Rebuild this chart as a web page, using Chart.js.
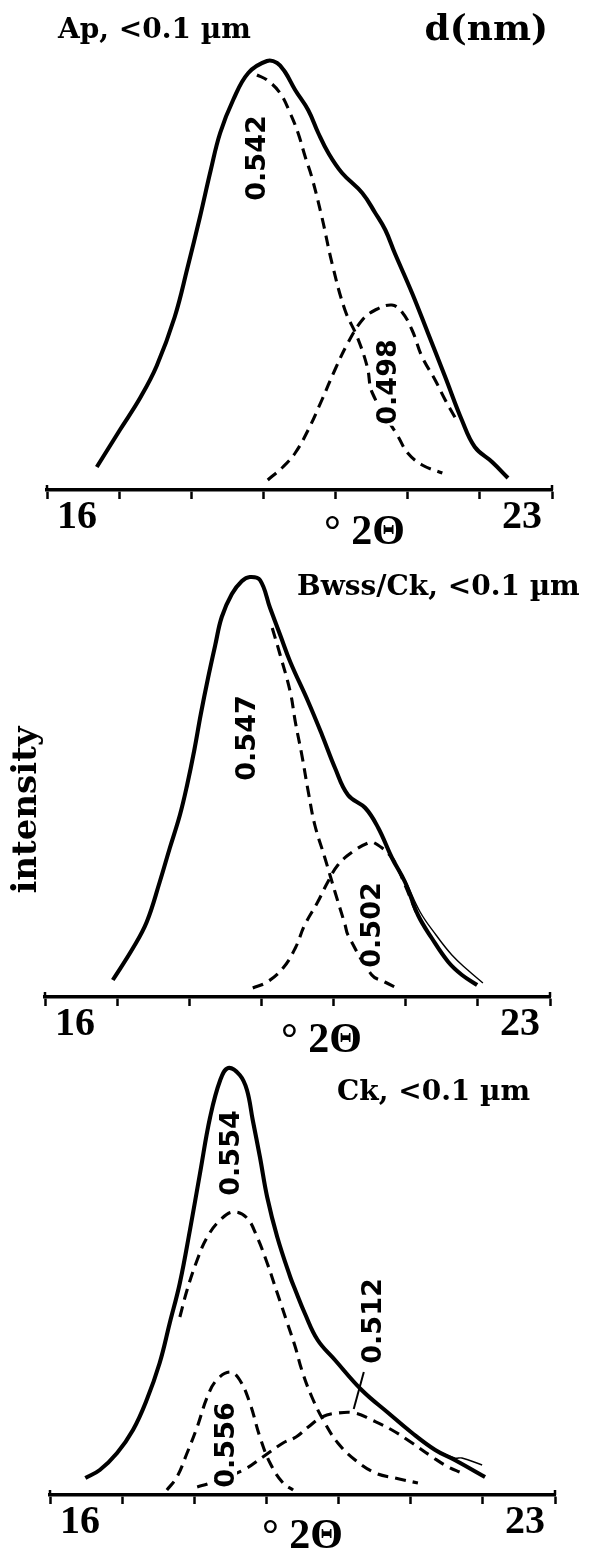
<!DOCTYPE html>
<html>
<head>
<meta charset="utf-8">
<script src="https://cdn.jsdelivr.net/npm/chart.js@4.4.1/dist/chart.umd.min.js"></script>
<style>
  html, body { margin: 0; padding: 0; background: #fff; overflow: hidden; }
  #wrap { position: relative; width: 591px; height: 1550px; }
  canvas { position: absolute; left: 0; }
</style>
</head>
<body>
<div id="wrap">
  <canvas id="ap" width="591" height="550" style="top:0px"></canvas>
  <canvas id="bw" width="591" height="550" style="top:507px"></canvas>
  <canvas id="ck" width="591" height="550" style="top:1005px"></canvas>
</div>
<script>
// x axis: degrees 2-theta, only the two ends are labelled
const X_MIN = 16;
const X_MAX = 23;
const xTickLabels = ['16', '23'];
const Y_MAX = 440; // intensity, arbitrary units

// --- Ap, <0.1 um : [2theta, intensity]
const apTotal = [
  [16.69, 23], [17.01, 60], [17.29, 92], [17.52, 124], [17.77, 173], [17.95, 223],
  [18.12, 273], [18.27, 320], [18.40, 357], [18.58, 390], [18.79, 417], [19.05, 429],
  [19.19, 427], [19.30, 418], [19.44, 400], [19.62, 380], [19.76, 357], [19.90, 337],
  [20.09, 317], [20.37, 297], [20.55, 277], [20.69, 260], [20.82, 237], [21.06, 197],
  [21.28, 157], [21.52, 113], [21.75, 70], [21.93, 43], [22.17, 28], [22.39, 12]
];
const ap542 = [
  [18.91, 415], [19.05, 410], [19.23, 397], [19.37, 377], [19.48, 357], [19.58, 333],
  [19.67, 313], [19.81, 273], [19.95, 227], [20.13, 180], [20.30, 153], [20.44, 123],
  [20.51, 97], [20.87, 53], [21.00, 37], [21.20, 25], [21.48, 17]
];
const ap498 = [
  [19.06, 10], [19.27, 23], [19.44, 37], [19.62, 60], [19.81, 90], [19.99, 120],
  [20.17, 147], [20.37, 170], [20.55, 180], [20.78, 185], [20.92, 178], [21.06, 160],
  [21.20, 133], [21.38, 110], [21.52, 90], [21.66, 72]
];

// --- Bwss/Ck, <0.1 um
const bwTotal = [
  [16.94, 17], [17.22, 49], [17.41, 75], [17.59, 115], [17.73, 149], [17.87, 182],
  [17.97, 212], [18.07, 247], [18.16, 283], [18.26, 319], [18.36, 352], [18.45, 380],
  [18.59, 403], [18.73, 416], [18.84, 420], [18.98, 417], [19.12, 389], [19.26, 362],
  [19.40, 335], [19.65, 295], [19.84, 262], [20.02, 229], [20.20, 202], [20.44, 189],
  [20.62, 169], [20.81, 139], [20.99, 115], [21.17, 82], [21.36, 59], [21.59, 35],
  [21.78, 22], [21.99, 12]
];
const bwMeasured = [
  [20.81, 139], [20.99, 117], [21.20, 85], [21.42, 62], [21.64, 42], [21.86, 27], [22.07, 14]
];
const bw547 = [
  [19.15, 369], [19.26, 342], [19.40, 305], [19.47, 275], [19.56, 242], [19.65, 205],
  [19.74, 172], [19.88, 139], [20.02, 105], [20.16, 72], [20.20, 62], [20.53, 22],
  [20.71, 15], [20.88, 9]
];
const bw502 = [
  [18.88, 9], [19.08, 15], [19.30, 29], [19.47, 49], [19.60, 72], [19.78, 95],
  [19.92, 115], [20.06, 132], [20.26, 145], [20.48, 154], [20.57, 154], [20.81, 139],
  [20.99, 112], [21.17, 80]
];

// --- Ck, <0.1 um
const ckTotal = [
  [16.49, 17], [16.69, 25], [16.93, 42], [17.15, 65], [17.34, 95], [17.52, 132],
  [17.66, 172], [17.80, 212], [17.94, 265], [18.08, 322], [18.22, 378], [18.36, 415],
  [18.47, 427], [18.63, 420], [18.73, 405], [18.81, 375], [18.91, 338], [19.01, 298],
  [19.15, 258], [19.33, 218], [19.40, 205], [19.53, 182], [19.71, 155], [19.95, 135],
  [20.32, 105], [20.69, 82], [21.02, 62], [21.34, 45], [21.61, 35], [22.03, 18]
];
const ckMeasured = [
  [21.34, 45], [21.61, 37], [21.71, 37], [21.99, 30]
];
const ck554 = [
  [17.80, 178], [17.90, 205], [18.04, 235], [18.18, 258], [18.36, 275], [18.54, 283],
  [18.73, 277], [18.87, 258], [19.01, 232], [19.15, 202], [19.29, 172], [19.40, 148],
  [19.49, 125], [19.63, 98], [19.81, 72], [19.99, 52], [20.23, 35], [20.51, 22],
  [20.78, 17], [21.10, 12]
];
const ck556 = [
  [17.62, 5], [17.76, 18], [17.90, 42], [18.04, 68], [18.18, 98], [18.31, 115],
  [18.50, 123], [18.63, 115], [18.77, 92], [18.91, 58], [19.05, 32], [19.23, 12],
  [19.37, 5]
];
const ck512 = [
  [18.04, 8], [18.22, 12], [18.68, 25], [18.95, 38], [19.23, 52], [19.41, 58],
  [19.58, 68], [19.77, 78], [19.99, 82], [20.23, 82], [20.46, 75], [20.74, 65],
  [21.02, 52], [21.30, 38], [21.52, 28], [21.71, 22]
];

const SERIF = '"DejaVu Serif"';
const NUMFONT = '"Liberation Serif"';

function line(points, width, dash) {
  return {
    data: points.map(([x, y]) => ({ x, y })),
    borderColor: '#000', borderWidth: width, borderDash: dash || [],
    pointRadius: 0, tension: 0.4, fill: false
  };
}
const solid = pts => line(pts, 4.1);
const thin = pts => line(pts, 1.4);
const dashed = pts => line(pts, 3.1, [11, 7]);

// labels, titles and the axis title drawn on top of the curves
const panelText = {
  id: 'panelText',
  afterDatasetsDraw(chart, args, opts) {
    const { ctx, scales: { x, y } } = chart;
    ctx.save();
    ctx.fillStyle = '#000';
    ctx.strokeStyle = '#000';

    // little upward hooks at both ends of the axis
    ctx.lineWidth = 2.5;
    [X_MIN, X_MAX].forEach(v => {
      const px = x.getPixelForValue(v);
      ctx.beginPath();
      ctx.moveTo(px, y.bottom - 5);
      ctx.lineTo(px, y.bottom);
      ctx.stroke();
    });

    (opts.leaders || []).forEach(l => {
      ctx.lineWidth = 2;
      ctx.beginPath();
      ctx.moveTo(x.getPixelForValue(l[0][0]), y.getPixelForValue(l[0][1]));
      ctx.lineTo(x.getPixelForValue(l[1][0]), y.getPixelForValue(l[1][1]));
      ctx.stroke();
    });

    (opts.peaks || []).forEach(p => {
      ctx.font = 'bold 27px "DejaVu Sans"';
      const w = ctx.measureText(p.text).width;
      ctx.save();
      ctx.translate(x.getPixelForValue(p.at[0]), y.getPixelForValue(p.at[1]));
      ctx.rotate(-Math.PI / 2);
      ctx.fillStyle = '#fff';
      ctx.fillRect(-w / 2 - 1, -11, w + 2, 22);
      ctx.fillStyle = '#000';
      ctx.textAlign = 'center';
      ctx.textBaseline = 'middle';
      ctx.fillText(p.text, 0, 1);
      ctx.restore();
    });

    (opts.titles || []).forEach(t => {
      ctx.font = `bold ${t.size}px ${t.family}`;
      ctx.textAlign = t.align || 'left';
      ctx.textBaseline = 'alphabetic';
      if (t.rotate) {
        ctx.save();
        ctx.translate(t.x, t.y);
        ctx.rotate(-Math.PI / 2);
        ctx.textAlign = 'center';
        ctx.textBaseline = 'middle';
        ctx.fillText(t.text, 0, 0);
        ctx.restore();
      } else {
        ctx.fillText(t.text, t.x, t.y);
      }
    });
    ctx.restore();
  }
};

function makePanel(id, left, right, datasets, text) {
  return new Chart(document.getElementById(id), {
    type: 'line',
    data: { datasets },
    options: {
      responsive: false,
      devicePixelRatio: 1,
      animation: false,
      layout: { padding: { left, right: 591 - right, top: 50, bottom: 0 } },
      scales: {
        x: {
          type: 'linear', min: X_MIN, max: X_MAX,
          border: { display: true, color: '#000', width: 3.6 },
          grid: { drawOnChartArea: false, drawTicks: true, tickLength: 9, tickWidth: 2.5, tickColor: '#000' },
          ticks: {
            stepSize: 1, autoSkip: false, maxRotation: 0, align: 'inner', padding: -5,
            color: '#000',
            font: { family: NUMFONT, size: 40, weight: 'bold' },
            callback: v => v === X_MIN ? ' ' + xTickLabels[0] : (v === X_MAX ? xTickLabels[1] + ' ' : '')
          },
          afterFit: s => { s.height = 60; }
        },
        y: { display: false, min: 0, max: Y_MAX }
      },
      plugins: { legend: { display: false }, tooltip: { enabled: false }, panelText: text }
    },
    plugins: [panelText]
  });
}

makePanel('ap', 47, 552, [solid(apTotal), dashed(ap542), dashed(ap498)], {
  peaks: [{ text: '0.542', at: [18.91, 332] }, { text: '0.498', at: [20.73, 108] }],
  titles: [
    { text: 'Ap, <0.1 µm', x: 58, y: 38, size: 28, family: SERIF },
    { text: 'd(nm)', x: 548, y: 40, size: 36, family: SERIF, align: 'right' },
    { text: '° 2Θ', x: 324, y: 544, size: 42, family: NUMFONT }
  ]
});

makePanel('bw', 45, 550, [solid(bwTotal), thin(bwMeasured), dashed(bw547), dashed(bw502)], {
  peaks: [{ text: '0.547', at: [18.80, 259] }, { text: '0.502', at: [20.53, 72] }],
  titles: [
    { text: 'Bwss/Ck, <0.1 µm', x: 297, y: 88, size: 28, family: SERIF },
    { text: 'intensity', x: 27, y: 303, size: 34, family: SERIF, rotate: true },
    { text: '° 2Θ', x: 281, y: 545, size: 42, family: NUMFONT }
  ]
});

makePanel('ck', 50, 555, [solid(ckTotal), thin(ckMeasured), dashed(ck554), dashed(ck556), dashed(ck512)], {
  peaks: [
    { text: '0.554', at: [18.51, 342] },
    { text: '0.556', at: [18.44, 50] },
    { text: '0.512', at: [20.48, 174] }
  ],
  leaders: [[[20.35, 123], [20.21, 86]]],
  titles: [
    { text: 'Ck, <0.1 µm', x: 337, y: 95, size: 28, family: SERIF },
    { text: '° 2Θ', x: 262, y: 543, size: 42, family: NUMFONT }
  ]
});
</script>
</body>
</html>
